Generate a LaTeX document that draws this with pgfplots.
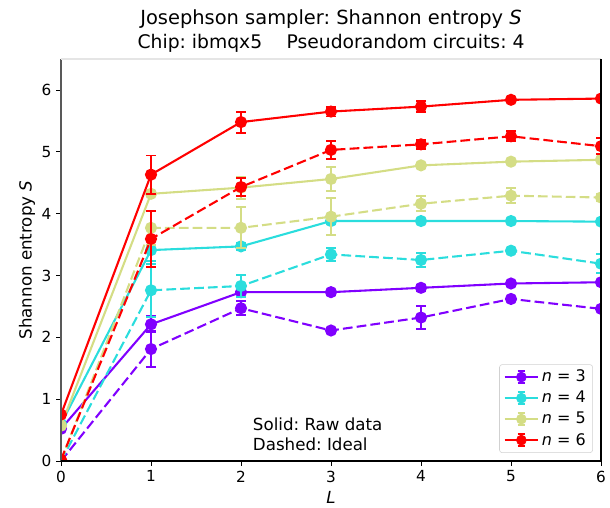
\documentclass[border=0pt]{standalone}
\usepackage{fontspec}
\setmainfont{DejaVu Sans}
\usepackage{pgfplots}
\usepackage{pgfplotstable}
\pgfplotsset{compat=1.18}
\frenchspacing

\definecolor{cthree}{RGB}{128,0,255}
\definecolor{cfour}{RGB}{42,221,221}
\definecolor{cfive}{RGB}{212,221,133}
\definecolor{csix}{RGB}{255,0,0}

% columns: circuit depth L, entropy S, error
\pgfplotstableread{
L S e
0 0.52 0
1 2.21 0.13
2 2.73 0.08
3 2.73 0.04
4 2.80 0.05
5 2.87 0.03
6 2.89 0.03
}\rawthree
\pgfplotstableread{
L S e
0 0.00 0
1 1.81 0.29
2 2.47 0.11
3 2.11 0.03
4 2.32 0.19
5 2.62 0.04
6 2.46 0.03
}\idealthree
\pgfplotstableread{
L S e
0 0.60 0
1 3.41 0.18
2 3.47 0.06
3 3.88 0.05
4 3.88 0.03
5 3.88 0.03
6 3.87 0.03
}\rawfour
\pgfplotstableread{
L S e
0 0.00 0
1 2.76 0.43
2 2.83 0.18
3 3.34 0.11
4 3.25 0.12
5 3.40 0.03
6 3.19 0.15
}\idealfour
\pgfplotstableread{
L S e
0 0.57 0
1 4.32 0.03
2 4.42 0.18
3 4.56 0.20
4 4.78 0.04
5 4.84 0.03
6 4.87 0.03
}\rawfive
\pgfplotstableread{
L S e
0 0.00 0
1 3.77 0.27
2 3.77 0.33
3 3.95 0.30
4 4.16 0.12
5 4.29 0.12
6 4.26 0.05
}\idealfive
\pgfplotstableread{
L S e
0 0.75 0
1 4.63 0.31
2 5.48 0.17
3 5.65 0.08
4 5.73 0.09
5 5.84 0.03
6 5.86 0.03
}\rawsix
\pgfplotstableread{
L S e
0 0.02 0
1 3.59 0.45
2 4.43 0.15
3 5.03 0.15
4 5.12 0.07
5 5.25 0.08
6 5.09 0.13
}\idealsix

\pgfplotsset{
  series/.style={
    color=#1, line width=1.5pt, mark=*, mark size=3.6pt,
    mark options={solid},
    /pgfplots/error bars/y dir=both,
    /pgfplots/error bars/y explicit,
    /pgfplots/error bars/error bar style={line width=1.4pt, solid},
    /pgfplots/error bars/error mark options={line width=1.4pt, mark size=3.4pt, rotate=90, solid},
  },
  raw/.style={series=#1, solid},
  ideal/.style={series=#1, dash pattern=on 7pt off 3pt},
  ebleg/.style={legend image code/.code={%
    \draw[line width=1.5pt] (0pt,0pt) -- (24pt,0pt);
    \draw[line width=1.3pt] (12pt,-4.3pt) -- (12pt,4.3pt);
    \draw[line width=1.3pt] (9.3pt,4.3pt) -- (14.7pt,4.3pt);
    \draw[line width=1.3pt] (9.3pt,-4.3pt) -- (14.7pt,-4.3pt);
    \fill (12pt,0pt) circle (3.6pt);
  }},
}

\begin{document}
\begin{tikzpicture}
\begin{axis}[
  name=ax,
  scale only axis,
  width=388.8pt, height=289.44pt,
  xmin=0, xmax=6, ymin=0, ymax=6.5,
  xtick={0,1,2,3,4,5,6}, ytick={0,1,2,3,4,5,6},
  tick align=outside, xtick pos=left, ytick pos=left,
  major tick length=3.5pt,
  tick style={black, line width=0.6pt},
  axis line style={draw=none},
  /pgf/number format/assume math mode=true,
  ticklabel style={font=\fontsize{11}{13}\selectfont},
  xlabel={\textit{L}},
  ylabel={Shannon entropy \textit{S}},
  label style={font=\fontsize{12}{14}\selectfont},
  xlabel style={at={(axis description cs:0.5,-0.09)}, anchor=center},
  ylabel style={at={(axis description cs:-0.063,0.5)}, anchor=center},
  clip mode=global,
  clip marker paths=true,
  legend cell align=left,
  legend style={
    at={(axis description cs:0.985,0.02)}, anchor=south east,
    draw=black!18, rounded corners=2pt, fill=white,
    font=\fontsize{11.5}{13}\selectfont,
    row sep=1.2pt, inner xsep=3pt, inner ysep=2pt,
  },
]
\addplot[raw=cthree, forget plot] table[x=L, y=S, y error=e] {\rawthree};
\addplot[ideal=cthree, forget plot] table[x=L, y=S, y error=e] {\idealthree};
\addplot[raw=cfour, forget plot] table[x=L, y=S, y error=e] {\rawfour};
\addplot[ideal=cfour, forget plot] table[x=L, y=S, y error=e] {\idealfour};
\addplot[raw=cfive, forget plot] table[x=L, y=S, y error=e] {\rawfive};
\addplot[ideal=cfive, forget plot] table[x=L, y=S, y error=e] {\idealfive};
\addplot[raw=csix, forget plot] table[x=L, y=S, y error=e] {\rawsix};
\addplot[ideal=csix, forget plot] table[x=L, y=S, y error=e] {\idealsix};

\addlegendimage{ebleg, color=cthree}
\addlegendentry{\textit{n} = 3}
\addlegendimage{ebleg, color=cfour}
\addlegendentry{\textit{n} = 4}
\addlegendimage{ebleg, color=cfive}
\addlegendentry{\textit{n} = 5}
\addlegendimage{ebleg, color=csix}
\addlegendentry{\textit{n} = 6}

\node[anchor=north west, align=left, font=\fontsize{12}{14.4}\selectfont, inner sep=0pt]
  at (axis cs:2.13,0.70) {Solid: Raw data\\Dashed: Ideal};
\end{axis}
% axis frame
\draw[black!65, line width=1.3pt] (ax.south west) -- (ax.north west);
\draw[black!10, line width=0.8pt] (ax.north west) -- (ax.north east);
\draw[black, line width=0.8pt] (ax.south west) -- (ax.south east) -- (ax.north east);
% two-line title
\node[anchor=base, font=\fontsize{14}{16}\selectfont, inner sep=0pt]
  at ([yshift=24.6pt]ax.north) {Josephson sampler: Shannon entropy \textit{S}};
\node[anchor=base, font=\fontsize{13.5}{16}\selectfont, inner sep=0pt]
  at ([yshift=7.8pt]ax.north) {Chip: ibmqx5\hspace{1.3em}Pseudorandom circuits: 4};
\pgfresetboundingbox
\path[use as bounding box] (-43.92pt,-33.84pt) rectangle (395.28pt,331.92pt);
\end{tikzpicture}
\end{document}
